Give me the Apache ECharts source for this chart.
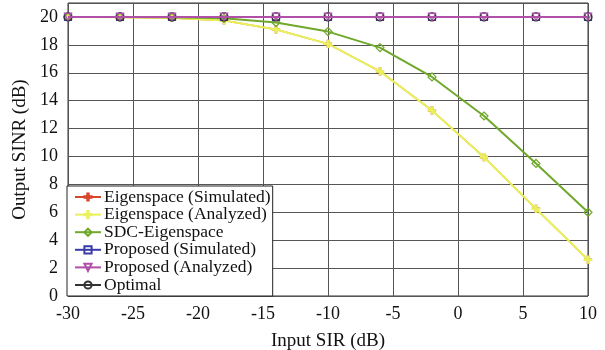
<!DOCTYPE html>
<html><head><meta charset="utf-8">
<script src="https://cdn.jsdelivr.net/npm/echarts@6/dist/echarts.min.js"></script>
<style>html,body{margin:0;padding:0;background:#fff}#c{width:605px;height:350px}</style>
</head><body><div id="c"></div>
<script>
const inputSIR = [-30,-26,-22,-18,-14,-10,-6,-2,2,6,10];
const eigSim   = [20,19.98,19.93,19.75,19.1,18.07,16.1,13.3,9.95,6.25,2.6];
const eigAna   = [20,19.98,19.93,19.75,19.1,18.07,16.1,13.3,9.95,6.25,2.6];
const sdcEig   = [20,20,19.97,19.9,19.6,18.95,17.8,15.7,12.9,9.5,6.0];
const propSim  = [20,20,20,20,20,20,20,20,20,20,20];
const propAna  = [20,20,20,20,20,20,20,20,20,20,20];
const optimal  = [20,20,20,20,20,20,20,20,20,20,20];
const names = ['Eigenspace (Simulated)','Eigenspace (Analyzed)','SDC-Eigenspace','Proposed (Simulated)','Proposed (Analyzed)','Optimal'];
const xTicks = [-30,-25,-20,-15,-10,-5,0,5,10];
const yTicks = [0,2,4,6,8,10,12,14,16,18,20];

const pair = arr => inputSIR.map((x,i)=>[x,arr[i]]);
const font = 'Liberation Serif';
const plus = 'path://M4,0H6V4H10V6H6V10H4V6H0V4H4Z';
function mk(name, data, color, symbol, size, z, lw, filled, rot){
  return {name, type:'line', data:pair(data), z,
    symbol, symbolSize:size, symbolRotate:rot||0, showSymbol:true,
    lineStyle:{color, width:lw},
    itemStyle:{color: filled ? color : 'rgba(255,255,255,0)', borderColor:color, borderWidth:1.2},
    emphasis:{disabled:true}, animation:false};
}
const chart = echarts.init(document.getElementById('c'));
chart.setOption({
  animation:false,
  grid:{left:68, right:17, top:3, bottom:54, show:true, borderColor:'#333', borderWidth:1,
    containLabel:false, outerBoundsMode:'none'},
  xAxis:{type:'value', min:-30, max:10, interval:5,
    name:'Input SIR (dB)', nameLocation:'middle', nameGap:36,
    nameTextStyle:{fontFamily:font, fontSize:19, color:'#111'},
    axisLine:{show:false}, axisTick:{show:false},
    axisLabel:{fontFamily:font, fontSize:18, color:'#111', margin:9,
      formatter:v=>xTicks.includes(v)?String(v):''},
    splitLine:{show:true, lineStyle:{color:'#555', width:1}}},
  yAxis:{type:'value', min:0, max:21, interval:2,
    name:'Output SINR (dB)', nameLocation:'middle', nameGap:38, nameRotate:90,
    nameTextStyle:{fontFamily:font, fontSize:19, color:'#111'},
    axisLine:{show:false}, axisTick:{show:false},
    axisLabel:{fontFamily:font, fontSize:18, color:'#111', margin:10,
      formatter:v=>yTicks.includes(v)?String(v):''},
    splitLine:{show:true, lineStyle:{color:'#555', width:1}}},
  legend:{orient:'vertical', left:67, top:186, data:names,
    backgroundColor:'#fff', borderColor:'#222', borderWidth:1, padding:[2,2,2,7],
    itemWidth:26, itemHeight:9, itemGap:-0.4,
    textStyle:{fontFamily:font, fontSize:17.5, color:'#111', padding:[0,0,0,-2]}},
  series:[
    mk(names[0], eigSim, '#d9462e', plus, 7, 2, 1.5, true),
    mk(names[1], eigAna, '#e9f25a', plus, 7, 3, 2, true),
    mk(names[2], sdcEig, '#6fa82a', 'path://M5,0L10,5L5,10L0,5Z', 8, 4, 2, false),
    mk(names[3], propSim, '#3a3aa8', 'rect', 7, 5, 1.5, false),
    mk(names[5], optimal, '#333', 'circle', 8, 6, 1, false),
    mk(names[4], propAna, '#b050a8', 'triangle', 7, 7, 2, false, 180)
  ]
});
</script></body></html>
